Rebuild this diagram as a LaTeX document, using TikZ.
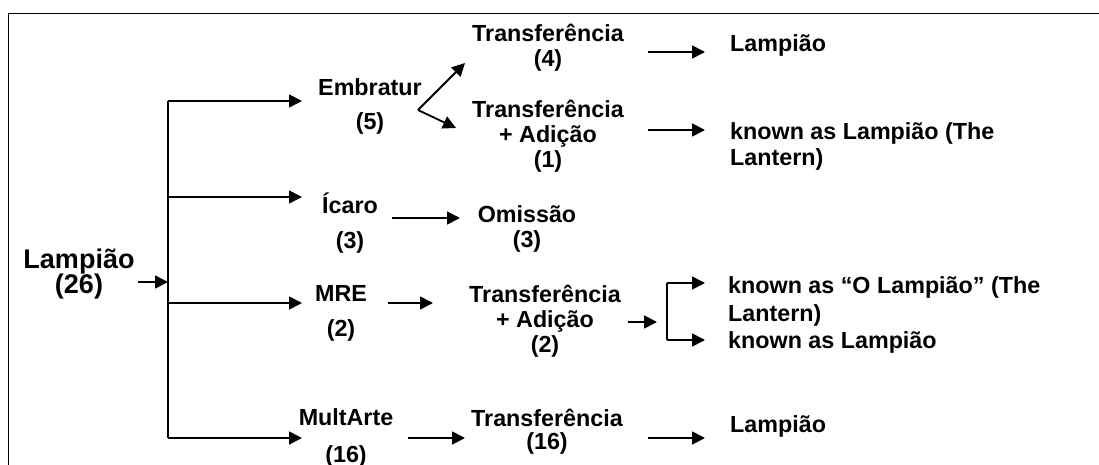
\documentclass[tikz,border=0pt]{standalone}
\usepackage{fontspec}
\setmainfont{Liberation Sans}
\usetikzlibrary{arrows.meta}
% stacked lines with a fixed baseline distance; the box baseline is the first line
\newcommand\ctrlines[2]{\vtop{\baselineskip=#1\relax\lineskiplimit=-100pt\lineskip=0pt\halign{\hfil##\hfil\cr#2\crcr}}}
\newcommand\leftlines[2]{\vtop{\baselineskip=#1\relax\lineskiplimit=-100pt\lineskip=0pt\halign{##\hfil\cr#2\crcr}}}

\begin{document}
\begin{tikzpicture}[x=1pt,y=-1pt,
  lbl/.style={inner sep=0pt,anchor=base,font=\fontsize{23.3}{25}\selectfont\bfseries},
  lblL/.style={lbl,anchor=base west},
  ln/.style={line width=1.8pt},
  arr/.style={ln,-{Triangle[length=13pt,width=13pt]}}]
\useasboundingbox (0,0) rectangle (1099,465);

% open frame: top and left sides
\draw[ln] (8.5,465) -- (8.5,13.5) -- (1099,13.5);

% source term
\node[lbl,font=\fontsize{27}{27}\selectfont\bfseries] (lamp) at (79,268) {\ctrlines{25pt}{Lampião\cr(26)}};

% translations
\node[lbl] (emb)  at (370,96)  {\ctrlines{34pt}{Embratur\cr(5)}};
\node[lbl] (ica)  at (350,213) {\ctrlines{35pt}{Ícaro\cr(3)}};
\node[lbl] (mre)  at (341,301) {\ctrlines{35pt}{MRE\cr(2)}};
\node[lbl] (mult) at (346,425) {\ctrlines{37pt}{MultArte\cr(16)}};

% procedures
\node[lbl] (t4)  at (548,42)  {\ctrlines{25pt}{Transferência\cr(4)}};
\node[lbl] (t1)  at (548,118) {\ctrlines{25pt}{Transferência\cr+ Adição\cr(1)}};
\node[lbl] (omi) at (527,222) {\ctrlines{25pt}{Omissão\cr(3)}};
\node[lbl] (t2)  at (545,302) {\ctrlines{25pt}{Transferência\cr+ Adição\cr(2)}};
\node[lbl] (t16) at (547,426) {\ctrlines{23pt}{Transferência\cr(16)}};

% resulting renderings
\node[lblL] (r4)  at (730,52)  {Lampião};
\node[lblL] (r1)  at (730,140) {\leftlines{25pt}{known as Lampião (The\cr Lantern)}};
\node[lblL] (r2a) at (728,293) {\leftlines{28pt}{known as “O Lampião” (The\cr Lantern)}};
\node[lblL] (r2b) at (728,348) {known as Lampião};
\node[lblL] (r16) at (730,432) {Lampião};

% trunk
\coordinate (jin)  at (168,282);
\coordinate (jtop) at (168,101);
\coordinate (jica) at (168,197);
\coordinate (jmre) at (168,303);
\coordinate (jbot) at (168,438);
\draw[ln] (jtop) -- (jbot);
\draw[arr] ([xshift=3.5pt]lamp.east |- jin) -- (jin);
\draw[arr] (jtop) -- ++(134,0);
\draw[arr] (jica) -- ++(134,0);
\draw[arr] (jmre) -- ++(134,0);
\draw[arr] (jbot) -- ++(134,0);

% Embratur split
\coordinate (esplit) at (418,110);
\coordinate (eup) at (465,63);
\coordinate (edown) at (456,128);
\draw[arr] (esplit) -- (eup);
\draw[arr] (esplit) -- (edown);

% second-level arrows
\coordinate (icaout) at (392,218);
\draw[arr] (icaout) -- ++(68,0);
\coordinate (mreout) at (388,303);
\draw[arr] (mreout) -- ++(45,0);
\coordinate (multout) at (408,438);
\draw[arr] (multout) -- ++(57,0);

% third-level arrows
\coordinate (t4out) at (648,52);
\draw[arr] (t4out) -- ++(57,0);
\coordinate (t1out) at (648,130);
\draw[arr] (t1out) -- ++(57,0);
\coordinate (t16out) at (648,438);
\draw[arr] (t16out) -- ++(57,0);

% MRE bracket
\coordinate (t2out) at (628,322);
\coordinate (bt) at (667,283);
\coordinate (bb) at (667,340);
\draw[arr] (t2out) -- ++(29,0);
\draw[ln] (bt) -- (bb);
\draw[arr] (bt) -- ++(38,0);
\draw[arr] (bb) -- ++(38,0);
\end{tikzpicture}
\end{document}
